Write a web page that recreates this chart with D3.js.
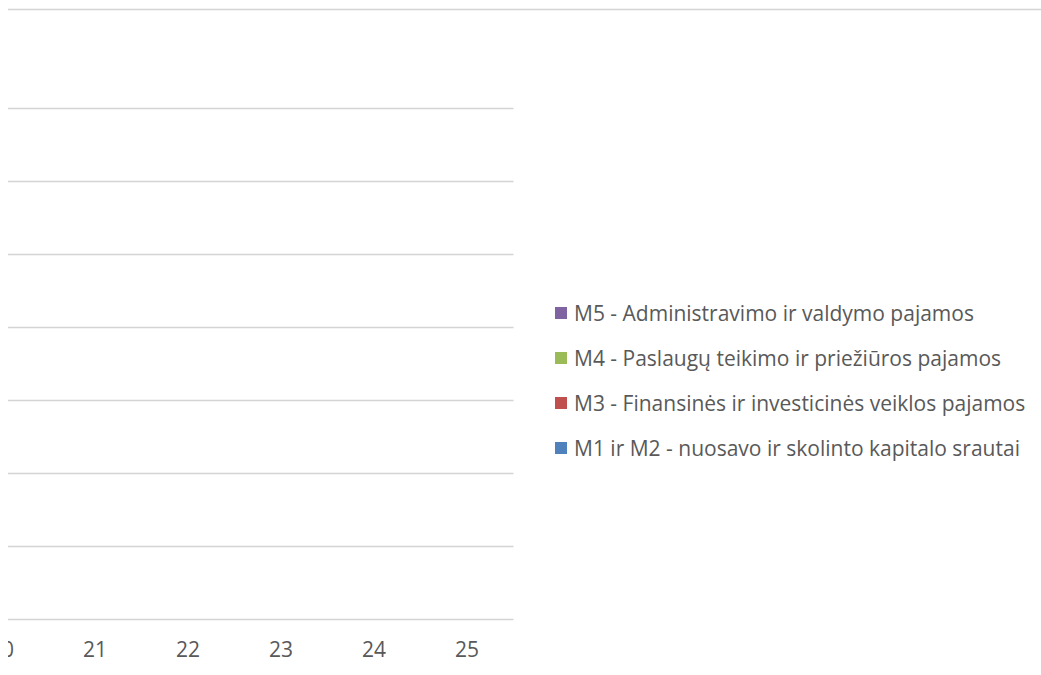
<!DOCTYPE html>
<html>
<head>
<meta charset="utf-8">
<script src="https://cdn.jsdelivr.net/npm/d3@7"></script>
<style>
html,body{margin:0;padding:0;background:#fff;overflow:hidden;}
svg{display:block;}
text{font-family:"Open Sans", Lato, sans-serif;fill:#595959;}
</style>
</head>
<body>
<svg id="chart" width="1041" height="675"></svg>
<script>
// Data (no visible bars in the reference)
const categories = ["20", "21", "22", "23", "24", "25"];
const seriesNames = [
  "M1 ir M2 - nuosavo ir skolinto kapitalo srautai",
  "M3 - Finansinės ir investicinės veiklos pajamos",
  "M4 - Paslaugų teikimo ir priežiūros pajamos",
  "M5 - Administravimo ir valdymo pajamos"
];
const seriesColors = ["#4F81BD", "#C0504D", "#9BBB59", "#8064A2"];
const m12 = [0, 0, 0, 0, 0, 0];
const m3 = [0, 0, 0, 0, 0, 0];
const m4 = [0, 0, 0, 0, 0, 0];
const m5 = [0, 0, 0, 0, 0, 0];
const yTicks = [0, 1, 2, 3, 4, 5, 6, 7];

const svg = d3.select("#chart");
const plot = {left: -44.5, right: 513.5, top: 108, bottom: 619};

const x = d3.scaleBand().domain(categories).range([plot.left, plot.right]).paddingInner(0.5).paddingOuter(0.25);
const y = d3.scaleLinear().domain([0, 7]).range([plot.bottom, plot.top]);

// chart area clip (the visible crop starts at x = 8)
svg.append("defs").append("clipPath").attr("id", "area")
  .append("rect").attr("x", 8).attr("y", 0).attr("width", 1033).attr("height", 675);

const root = svg.append("g").attr("clip-path", "url(#area)");

// outer top border line
root.append("line").attr("x1", 8).attr("x2", 1041).attr("y1", 9.5).attr("y2", 9.5)
  .attr("stroke", "#d4d4d4").attr("stroke-width", 1.5);

// gridlines
root.append("g").selectAll("line").data(yTicks).join("line")
  .attr("x1", 8).attr("x2", plot.right)
  .attr("y1", d => Math.round(y(d)) + 0.5).attr("y2", d => Math.round(y(d)) + 0.5)
  .attr("stroke", "#d4d4d4").attr("stroke-width", 1.5);

// stacked bars
const rows = categories.map((c, i) => ({cat: c, s0: m12[i], s1: m3[i], s2: m4[i], s3: m5[i]}));
const stack = d3.stack().keys(["s0", "s1", "s2", "s3"])(rows);
root.append("g").selectAll("g").data(stack).join("g")
  .attr("fill", (d, i) => seriesColors[i])
  .selectAll("rect").data(d => d).join("rect")
  .attr("x", d => x(d.data.cat))
  .attr("width", x.bandwidth())
  .attr("y", d => y(d[1]))
  .attr("height", d => Math.max(0, y(d[0]) - y(d[1])));

// x axis labels
const xAxis = d3.axisBottom(x).tickSize(0).tickPadding(0);
const gx = root.append("g").attr("transform", `translate(0,${plot.bottom})`).call(xAxis);
gx.select(".domain").remove();
gx.selectAll("text").attr("dy", null).attr("y", 38).style("font-size", "21px").style("fill", "#595959")
  .style("font-family", "'Open Sans', Lato, sans-serif");

// legend (reversed order, top = M5)
const legendItems = seriesNames.map((n, i) => ({name: n, color: seriesColors[i]})).reverse();
const lg = svg.append("g").attr("transform", "translate(555,307)");
const li = lg.selectAll("g").data(legendItems).join("g")
  .attr("transform", (d, i) => `translate(0,${i * 45})`);
li.append("rect").attr("width", 12).attr("height", 12).attr("fill", d => d.color);
li.append("text").attr("x", 19).attr("y", 6).attr("dy", "0.36em")
  .style("font-size", "21px").text(d => d.name);
</script>
</body>
</html>
